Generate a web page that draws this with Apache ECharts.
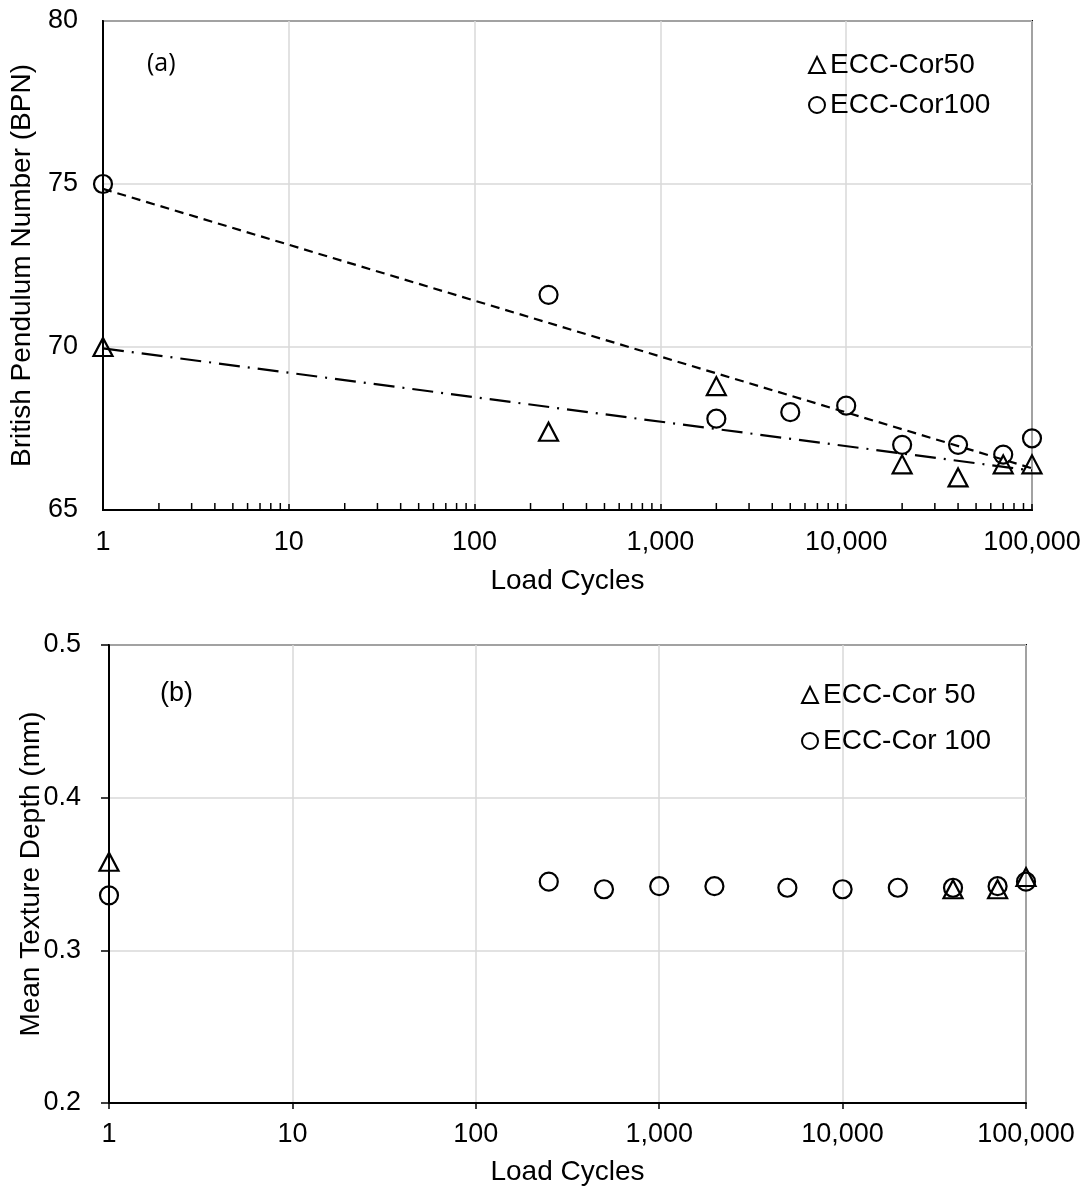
<!DOCTYPE html>
<html>
<head>
<meta charset="utf-8">
<script src="https://cdn.jsdelivr.net/npm/echarts@6/dist/echarts.min.js"></script>
<style>
html,body{margin:0;padding:0;background:#fff;}
#chart{width:1091px;height:1191px;}
</style>
</head>
<body>
<div id="chart"></div>
<script>
// ---- Data ----
// Panel (a): British Pendulum Number
const cor50X = [1, 250, 2000, 20000, 40000, 70000, 100000];
const cor50BPN = [70.0, 67.4, 68.8, 66.4, 66.0, 66.4, 66.4];
const cor100X = [1, 250, 2000, 5000, 10000, 20000, 40000, 70000, 100000];
const cor100BPN = [75.0, 71.6, 67.8, 68.0, 68.2, 67.0, 67.0, 66.7, 67.2];
// logarithmic trend lines (straight on log axis), end points
const trendX = [1, 100000];
const trend50BPN = [69.96, 66.21];
const trend100BPN = [74.85, 66.28];
// Panel (b): Mean Texture Depth
const mtd50X = [1, 40000, 70000, 100000];
const mtd50 = [0.358, 0.340, 0.340, 0.348];
const mtd100X = [1, 250, 500, 1000, 2000, 5000, 10000, 20000, 40000, 70000, 100000];
const mtd100 = [0.336, 0.345, 0.340, 0.342, 0.342, 0.341, 0.340, 0.341, 0.341, 0.342, 0.345];
// minor tick values for panel (a) x axis
const minorTicks = [2,3,4,5,6,7,8,9,20,30,40,50,60,70,80,90,200,300,400,500,600,700,800,900,
  2000,3000,4000,5000,6000,7000,8000,9000,20000,30000,40000,50000,60000,70000,80000,90000];
const legendA = ['ECC-Cor50', 'ECC-Cor100'];
const legendB = ['ECC-Cor 50', 'ECC-Cor 100'];

const zip = (xs, ys) => xs.map((x, i) => [x, ys[i]]);
const FONT = '"Liberation Sans", Arial, sans-serif';
const fmtX = v => Math.round(v).toLocaleString('en-US');

const chart = echarts.init(document.getElementById('chart'), null, {renderer: 'canvas'});

const hollow = {color: '#fff', borderColor: '#000', borderWidth: 2, opacity: 1};
const ring = {color: 'transparent', borderColor: '#000', borderWidth: 2.2, opacity: 1};
const gridColor = '#d9d9d9';
const TICK_FS = 27, NAME_FS = 28;

function xAxisCfg(gridIndex, tickInside) {
  return {
    type: 'log', logBase: 10, min: 1, max: 100000, gridIndex,
    name: 'Load Cycles', nameLocation: 'middle', nameGap: tickInside ? 57 : 55, nameMoveOverlap: false,
    nameTextStyle: {fontFamily: FONT, fontSize: NAME_FS, color: '#000'},
    axisLine: {show: true, onZero: false, lineStyle: {color: '#000', width: 2}},
    axisTick: {show: true, inside: tickInside, length: 6, lineStyle: {color: '#000', width: 1.5}},
    axisLabel: {fontFamily: FONT, fontSize: TICK_FS, color: '#000', margin: tickInside ? 19 : 18, formatter: fmtX},
    splitLine: {show: true, lineStyle: {color: gridColor, width: 1.5}},
    minorTick: {show: false}
  };
}

const option = {
  backgroundColor: '#fff',
  animation: false,
  grid: [
    {left: 103, top: 21, width: 929, height: 489, show: true, borderColor: '#000', borderWidth: 2,
     backgroundColor: 'transparent', containLabel: false, outerBoundsMode: 'none'},
    {left: 109, top: 645, width: 917, height: 458, show: true, borderColor: '#000', borderWidth: 2,
     backgroundColor: 'transparent', containLabel: false, outerBoundsMode: 'none'}
  ],
  xAxis: [xAxisCfg(0, true), xAxisCfg(1, false)],
  yAxis: [
    {
      type: 'value', gridIndex: 0, min: 65, max: 80, interval: 5,
      name: 'British Pendulum Number (BPN)', nameLocation: 'middle', nameGap: 67, nameMoveOverlap: false,
      nameTextStyle: {fontFamily: FONT, fontSize: NAME_FS, color: '#000'},
      axisLine: {show: true, lineStyle: {color: '#000', width: 2}},
      axisTick: {show: false},
      axisLabel: {fontFamily: FONT, fontSize: TICK_FS, color: '#000', margin: 25},
      splitLine: {show: true, lineStyle: {color: gridColor, width: 1.5}}
    },
    {
      type: 'value', gridIndex: 1, min: 0.2, max: 0.5, interval: 0.1,
      name: 'Mean Texture Depth (mm)', nameLocation: 'middle', nameGap: 64, nameMoveOverlap: false,
      nameTextStyle: {fontFamily: FONT, fontSize: NAME_FS, color: '#000'},
      axisLine: {show: true, lineStyle: {color: '#000', width: 2}},
      axisTick: {show: true, inside: false, length: 8, lineStyle: {color: '#000', width: 1.5}},
      axisLabel: {fontFamily: FONT, fontSize: TICK_FS, color: '#000', margin: 28, formatter: v => v.toFixed(1)},
      splitLine: {show: true, lineStyle: {color: gridColor, width: 1.5}}
    }
  ],
  legend: [
    {
      data: [{name: legendA[0], icon: 'triangle'}, {name: legendA[1], icon: 'circle'}],
      orient: 'vertical', left: 803, top: 46, itemWidth: 16, itemHeight: 16, itemGap: 12,
      textStyle: {fontFamily: FONT, fontSize: NAME_FS, color: '#000'},
      itemStyle: hollow
    },
    {
      data: [{name: legendB[0], icon: 'triangle'}, {name: legendB[1], icon: 'circle'}],
      orient: 'vertical', left: 796, top: 676, itemWidth: 16, itemHeight: 16, itemGap: 18,
      textStyle: {fontFamily: FONT, fontSize: NAME_FS, color: '#000'},
      itemStyle: hollow
    }
  ],
  graphic: [
    {type: 'text', left: 147, top: 51, style: {text: '(a)', fontFamily: '"Open Sans", "Noto Sans", sans-serif', fontSize: 25, fill: '#000'}},
    {type: 'text', left: 160, top: 680, style: {text: '(b)', fontFamily: FONT, fontSize: 27, fill: '#000'}}
  ],
  series: [
    {
      name: 'trend100', type: 'line', xAxisIndex: 0, yAxisIndex: 0, data: zip(trendX, trend100BPN),
      showSymbol: false, symbol: 'none', silent: true,
      lineStyle: {color: '#000', width: 2.2, type: [9, 6]}, z: 3
    },
    {
      name: 'trend50', type: 'line', xAxisIndex: 0, yAxisIndex: 0, data: zip(trendX, trend50BPN),
      showSymbol: false, symbol: 'none', silent: true,
      lineStyle: {color: '#000', width: 2.2, type: [21, 8, 2, 8]}, z: 3
    },
    {
      name: 'minorTicks', type: 'custom', xAxisIndex: 0, yAxisIndex: 0, silent: true, clip: false,
      data: minorTicks.map(v => [v, 65]),
      renderItem: (params, api) => {
        const p = api.coord([api.value(0), api.value(1)]);
        return {type: 'line', shape: {x1: p[0], y1: p[1], x2: p[0], y2: p[1] - 7},
                style: {stroke: '#000', lineWidth: 1.5}};
      }, z: 4
    },
    {
      name: legendA[0], type: 'scatter', xAxisIndex: 0, yAxisIndex: 0, data: zip(cor50X, cor50BPN),
      symbol: 'triangle', symbolSize: [19, 18], itemStyle: ring, clip: false, z: 5
    },
    {
      name: legendA[1], type: 'scatter', xAxisIndex: 0, yAxisIndex: 0, data: zip(cor100X, cor100BPN),
      symbol: 'circle', symbolSize: 18, itemStyle: ring, clip: false, z: 5
    },
    {
      name: legendB[0], type: 'scatter', xAxisIndex: 1, yAxisIndex: 1, data: zip(mtd50X, mtd50),
      symbol: 'triangle', symbolSize: [19, 18], itemStyle: ring, clip: false, z: 5
    },
    {
      name: legendB[1], type: 'scatter', xAxisIndex: 1, yAxisIndex: 1, data: zip(mtd100X, mtd100),
      symbol: 'circle', symbolSize: 18, itemStyle: ring, clip: false, z: 5
    }
  ]
};
chart.setOption(option);
</script>
</body>
</html>
